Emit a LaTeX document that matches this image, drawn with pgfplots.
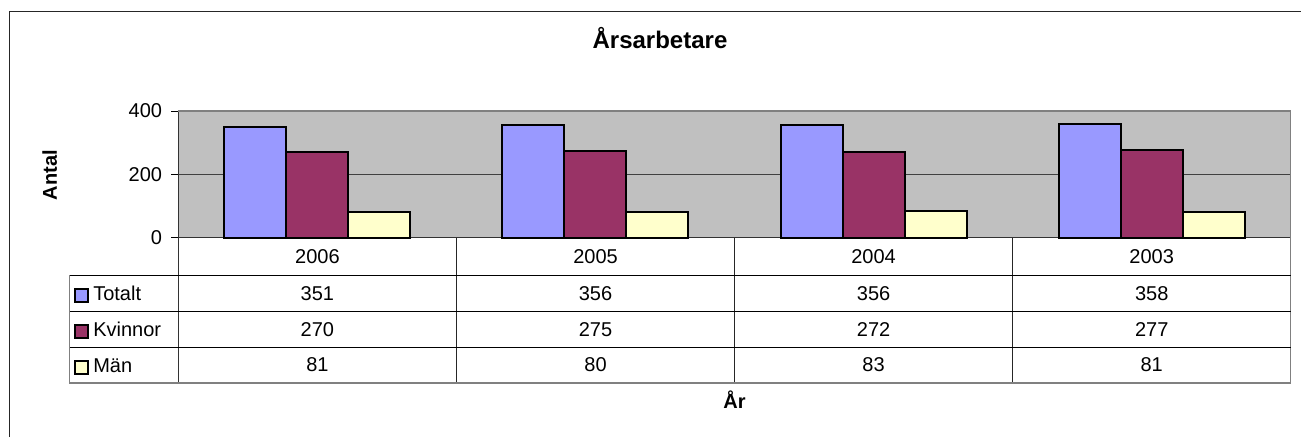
\documentclass[border=0pt]{standalone}
\usepackage{pgfplots}
\pgfplotsset{compat=1.18}
\usepackage{fontspec}
\setmainfont{Liberation Sans}
\definecolor{tot}{HTML}{9999FF}
\definecolor{kvi}{HTML}{993366}
\definecolor{man}{HTML}{FFFFCC}
\definecolor{plotbg}{HTML}{C0C0C0}
\definecolor{edge}{HTML}{808080}
\newcommand{\fs}{\fontsize{20}{24}\selectfont}
\pgfplotsset{keysq/.style={legend image code/.code={%
  \path[draw=none, fill=none] (0pt,0pt) -- (24pt,0pt);
  \draw[line width=2pt, draw=black] (5.5pt,-9pt) rectangle (19pt,4.5pt);}}}
\begin{document}
\begin{tikzpicture}[x=1pt,y=1pt]
\useasboundingbox (0,0) rectangle (1301,437);
% chart border (left and top visible)
\draw[line width=1.5pt, black!85] (9.5,0) -- (9.5,425.3) -- (1301,425.3);
\begin{axis}[
  at={(178.3pt,199.3pt)}, anchor=south west,
  scale only axis, width=1112.4pt, height=126.7pt,
  xmin=-0.5, xmax=3.5, ymin=0, ymax=400,
  ytick={0,200,400}, xtick=\empty,
  axis x line*=bottom, axis y line*=left,
  axis line style={black!80, line width=1pt},
  ymajorgrids, grid style={black!75, line width=0.8pt},
  axis background/.style={fill=plotbg},
  tick align=outside, major tick length=7pt,
  tick style={black, line width=1pt},
  ybar=0pt, bar width=62pt,
  /pgf/number format/assume math mode=true,
  yticklabel style={font=\fs, inner sep=0pt, xshift=-9pt},
  clip=false,
  legend style={at={(axis description cs:-0.098,-0.2944)}, anchor=north west,
    draw=none, fill=none, inner sep=0pt, outer sep=0pt, row sep=0pt, column sep=0pt,
    nodes={inner sep=0pt, font=\fs, text height=25.7pt, text depth=10.3pt, anchor=west}},
  legend cell align=left,
]
\addplot[fill=tot, draw=black, line width=2pt, keysq]
  coordinates {(0,351) (1,356) (2,356) (3,358)};
\addplot[fill=kvi, draw=black, line width=2pt, keysq]
  coordinates {(0,270) (1,275) (2,272) (3,277)};
\addplot[fill=man, draw=black, line width=2pt, keysq]
  coordinates {(0,81) (1,80) (2,83) (3,81)};
\legend{Totalt, Kvinnor, Män}
\end{axis}
% plot area top/right border
\draw[edge, line width=1.5pt] (178.3,326) -- (1290.7,326) -- (1290.7,54);
% data table lines
\draw[black!80, line width=1pt] (178.3,199.3) -- (178.3,54);
\foreach \xx in {456.4,734.5,1012.6} \draw[black!85, line width=1pt] (\xx,199.3) -- (\xx,54);
\foreach \yy in {162,125.5,89.3} \draw[black, line width=1pt] (69.3,\yy) -- (1290.7,\yy);
\draw[edge, line width=1.2pt] (69.3,162) -- (69.3,54) -- (1290.7,54);
% table text
\foreach \xc/\yr/\a/\b/\c in {317.4/2006/351/270/81, 595.5/2005/356/275/80, 873.6/2004/356/272/83, 1151.7/2003/358/277/81}{
  \node[font=\fs, anchor=base, inner sep=0pt] at (\xc,173.7) {\yr};
  \node[font=\fs, anchor=base, inner sep=0pt] at (\xc,136.3) {\a};
  \node[font=\fs, anchor=base, inner sep=0pt] at (\xc,100.3) {\b};
  \node[font=\fs, anchor=base, inner sep=0pt] at (\xc,65.3) {\c};
}
% titles
\node[font=\fontsize{24}{28}\selectfont\bfseries, anchor=base, inner sep=0pt] at (660,388) {Årsarbetare};
\node[font=\fs\bfseries, anchor=base, inner sep=0pt, rotate=90] at (57,262) {Antal};
\node[font=\fs\bfseries, anchor=base, inner sep=0pt] at (734.5,28.7) {År};
\end{tikzpicture}
\end{document}
